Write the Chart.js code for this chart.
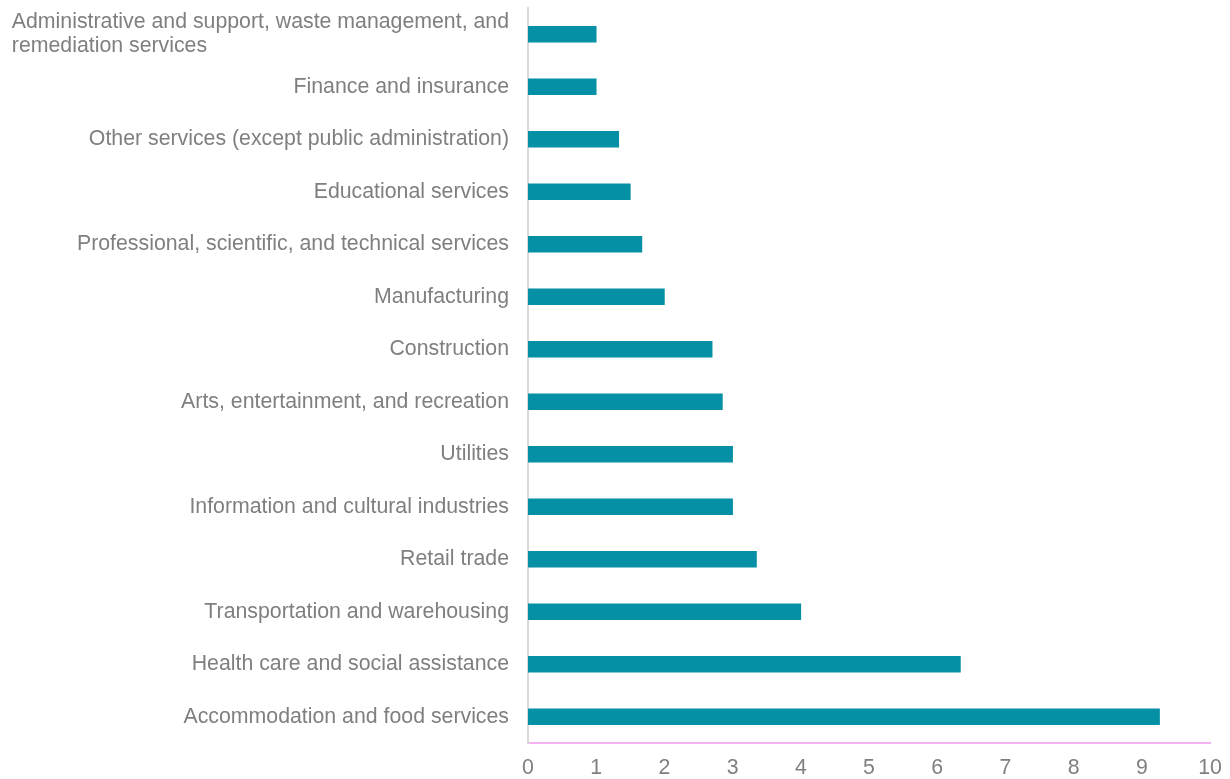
<!DOCTYPE html>
<html>
<head>
<meta charset="utf-8">
<script src="https://cdn.jsdelivr.net/npm/chart.js@4"></script>
<style>
html,body{margin:0;padding:0;background:#fff;}
#wrap{width:1230px;height:779px;position:relative;}
</style>
</head>
<body>
<div id="wrap"><canvas id="c" width="1230" height="779"></canvas></div>
<script>
const categories = [
  ["Administrative and support, waste management, and", "remediation services"],
  "Finance and insurance",
  "Other services (except public administration)",
  "Educational services",
  "Professional, scientific, and technical services",
  "Manufacturing",
  "Construction",
  "Arts, entertainment, and recreation",
  "Utilities",
  "Information and cultural industries",
  "Retail trade",
  "Transportation and warehousing",
  "Health care and social assistance",
  "Accommodation and food services"
];
const values = [1.0, 1.0, 1.33, 1.5, 1.67, 2.0, 2.7, 2.85, 3.0, 3.0, 3.35, 4.0, 6.34, 9.26];
const xTicks = [0, 1, 2, 3, 4, 5, 6, 7, 8, 9, 10];

const FONT = "'Liberation Sans', Arial, sans-serif";
const TEXT = '#7f7f7f';
const FSIZE = 21.3;

// draw multi-line category labels left-aligned as a block (Excel style)
const multiLinePlugin = {
  id: 'multiLine',
  afterDraw(chart) {
    const y = chart.scales.y;
    const ctx = chart.ctx;
    ctx.save();
    ctx.font = FSIZE + 'px ' + FONT;
    ctx.fillStyle = TEXT;
    ctx.textBaseline = 'middle';
    ctx.textAlign = 'left';
    categories.forEach((lab, i) => {
      if (!Array.isArray(lab)) return;
      const w = Math.max(...lab.map(s => ctx.measureText(s).width));
      const right = y.right - 19;
      const left = right - w;
      const cy = y.getPixelForValue(i);
      const lh = 24;
      const start = cy - (lab.length - 1) * lh / 2;
      lab.forEach((s, k) => ctx.fillText(s, left, start + k * lh));
    });
    ctx.restore();
  }
};

new Chart(document.getElementById('c'), {
  type: 'bar',
  data: {
    labels: categories,
    datasets: [{
      data: values,
      backgroundColor: '#0590a5',
      borderWidth: 0,
      barThickness: 16
    }]
  },
  options: {
    indexAxis: 'y',
    responsive: false,
    animation: false,
    layout: { padding: { top: 8, right: 20, left: 0, bottom: 0 } },
    plugins: { legend: { display: false }, tooltip: { enabled: false } },
    scales: {
      x: {
        min: 0, max: 10,
        afterBuildTicks(scale) { scale.ticks = xTicks.map(v => ({ value: v })); },
        afterFit(scale) {
          scale.height = 36;
          scale.paddingRight = 0;
          scale.paddingLeft = 0;
        },
        grid: { display: false, drawTicks: false },
        border: { display: true, color: '#f5b0f0', width: 2 },
        ticks: { color: TEXT, font: { family: FONT, size: FSIZE }, padding: 12 }
      },
      y: {
        afterFit(scale) {
          scale.width = 528;
          scale.paddingTop = 0;
          scale.paddingBottom = 0;
        },
        grid: { display: false, drawTicks: false },
        border: { display: true, color: '#d9d9d9', width: 2 },
        ticks: {
          callback: (v, i) => Array.isArray(categories[i]) ? '' : categories[i],
          color: TEXT,
          font: { family: FONT, size: FSIZE },
          padding: 19,
          autoSkip: false
        }
      }
    }
  },
  plugins: [multiLinePlugin]
});
</script>
</body>
</html>
